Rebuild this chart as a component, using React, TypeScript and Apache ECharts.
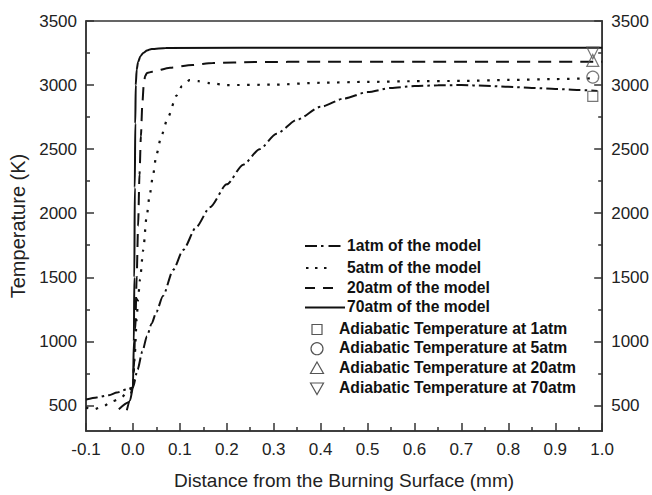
import React, { useEffect, useRef } from "react";
import * as echarts from "echarts";

// ---- Data ----
const atm1: [number, number][] = [
  [-0.1, 546], [-0.077, 562], [-0.051, 580], [-0.034, 600], [-0.013, 625], [0, 640],
  [0.01, 780], [0.02, 920], [0.03, 1040], [0.04, 1140], [0.05, 1230], [0.064, 1354],
  [0.086, 1559], [0.107, 1713], [0.135, 1892], [0.164, 2046], [0.2, 2225], [0.235, 2379],
  [0.27, 2500], [0.306, 2620], [0.35, 2730], [0.4, 2830], [0.45, 2895], [0.5, 2945],
  [0.55, 2978], [0.6, 2992], [0.65, 2998], [0.7, 3000], [0.75, 2995], [0.8, 2986],
  [0.85, 2978], [0.9, 2970], [0.95, 2962], [0.99, 2954],
];
const atm5: [number, number][] = [
  [-0.1, 482], [-0.083, 469], [-0.062, 495], [-0.045, 531], [-0.026, 554], [-0.015, 592], [0, 640],
  [0.004, 900], [0.008, 1175], [0.011, 1330], [0.015, 1482], [0.022, 1713], [0.029, 1969],
  [0.036, 2149], [0.043, 2302], [0.05, 2456], [0.061, 2610], [0.075, 2752], [0.093, 2918],
  [0.104, 2990], [0.121, 3038], [0.14, 3030], [0.164, 3015], [0.2, 3000], [0.3, 3003],
  [0.4, 3018], [0.5, 3025], [0.6, 3030], [0.7, 3032], [0.8, 3040], [0.9, 3047], [0.99, 3053],
];
const atm20: [number, number][] = [
  [-0.03, 470], [-0.01, 523], [0, 640], [0.002, 800], [0.005, 1100], [0.008, 1500],
  [0.011, 1900], [0.014, 2300], [0.017, 2600], [0.02, 2850], [0.023, 3000], [0.026, 3070],
  [0.03, 3095], [0.041, 3103], [0.079, 3136], [0.127, 3156], [0.17, 3172], [0.26, 3180],
  [0.4, 3182], [0.7, 3182], [1.0, 3182],
];
const atm70: [number, number][] = [
  [-0.013, 462], [-0.006, 540], [0, 640], [0.002, 1000], [0.003, 1500], [0.004, 2200],
  [0.005, 2700], [0.006, 3000], [0.008, 3120], [0.011, 3180], [0.016, 3225], [0.022, 3251],
  [0.03, 3270], [0.04, 3282], [0.07, 3290], [0.4, 3292], [1.0, 3292],
];
const adiabaticX = 0.98;
const adiabatic1 = 2912;
const adiabatic5 = 3062;
const adiabatic20 = 3192;
const adiabatic70 = 3250;

const xTicks = [-0.1, 0, 0.1, 0.2, 0.3, 0.4, 0.5, 0.6, 0.7, 0.8, 0.9, 1.0];
const yMajor = [500, 1000, 1500, 2000, 2500, 3000, 3500];
const yMinor = [750, 1250, 1750, 2250, 2750, 3250];

const lineNames = [
  "1atm of the model",
  "5atm of the model",
  "20atm of the model",
  "70atm of the model",
];
const markerNames = [
  "Adiabatic Temperature at 1atm",
  "Adiabatic Temperature at 5atm",
  "Adiabatic Temperature at 20atm",
  "Adiabatic Temperature at 70atm",
];

const FONT = "'Liberation Sans', Arial, Helvetica, sans-serif";
const INK = "#111";
const AX = "#333";
const MK = "#555";

export default function App() {
  const ref = useRef<HTMLDivElement>(null);
  useEffect(() => {
    if (!ref.current) return;
    const chart = echarts.init(ref.current, undefined, { renderer: "svg" });

    const yAxisBase = (pos: "left" | "right", minor: boolean, withName: boolean) => ({
      type: "value",
      position: pos,
      min: 300,
      max: 3500,
      splitLine: { show: false },
      axisLine: { show: !minor, onZero: false, lineStyle: { color: AX, width: 1.5 } },
      axisTick: {
        show: true,
        inside: true,
        length: minor ? 4 : 8,
        customValues: minor ? yMinor : yMajor,
        lineStyle: { color: AX, width: 1.5 },
      },
      axisLabel: {
        show: !minor,
        customValues: minor ? yMinor : yMajor,
        formatter: (v: number) => String(Math.round(v)),
        fontSize: 17,
        fontFamily: FONT,
        color: "#222",
        margin: 9,
      },
      name: withName ? "Temperature (K)" : "",
      nameLocation: "middle",
      nameGap: 55,
      nameTextStyle: { fontSize: 20, fontFamily: FONT, color: "#222" },
    });

    const lineSeries = (name: string, data: [number, number][], type: any, width: number) => ({
      type: "line",
      name,
      data,
      showSymbol: false,
      symbol: "none",
      smooth: 0.25,
      smoothMonotone: "x",
      lineStyle: { color: INK, width, type },
      xAxisIndex: 0,
      yAxisIndex: 0,
      z: 3,
    });

    const scatter = (name: string, y: number, symbol: string, rotate = 0) => ({
      type: "scatter",
      name,
      data: [[adiabaticX, y]],
      symbol,
      symbolSize: symbol === "rect" ? 10 : 12,
      symbolRotate: rotate,
      itemStyle: { color: "transparent", borderColor: MK, borderWidth: 1.2 },
      xAxisIndex: 0,
      yAxisIndex: 0,
      z: 4,
    });

    const LX = 305;
    const textStyle = (t: string, x: number, y: number) => ({
      type: "text",
      left: x,
      top: y - 9,
      style: {
        text: t,
        font: `bold 15.7px ${FONT}`,
        fill: "#111",
      },
    });
    const legendY = [246, 268, 288, 307.5];
    const markerY = [329.5, 348.7, 368, 388.5];
    const legendGraphics: any[] = [
      { type: "line", shape: { x1: LX, y1: legendY[0], x2: LX + 38, y2: legendY[0] }, style: { stroke: INK, lineWidth: 2, lineDash: [12, 4, 2.5, 5] } },
      { type: "line", shape: { x1: LX + 1, y1: legendY[1], x2: LX + 22, y2: legendY[1] }, style: { stroke: INK, lineWidth: 2.2, lineDash: [2.5, 6.5] } },
      { type: "line", shape: { x1: LX, y1: legendY[2], x2: LX + 28, y2: legendY[2] }, style: { stroke: INK, lineWidth: 2, lineDash: [10, 8] } },
      { type: "line", shape: { x1: LX, y1: legendY[3], x2: LX + 40, y2: legendY[3] }, style: { stroke: INK, lineWidth: 2 } },
      textStyle(lineNames[0], 347, legendY[0]),
      textStyle(lineNames[1], 347, legendY[1]),
      textStyle(lineNames[2], 347, legendY[2]),
      textStyle(lineNames[3], 347, legendY[3]),
      { type: "rect", shape: { x: 312, y: markerY[0] - 5, width: 10, height: 10 }, style: { fill: "none", stroke: MK, lineWidth: 1.2 } },
      { type: "circle", shape: { cx: 317, cy: markerY[1], r: 6 }, style: { fill: "none", stroke: MK, lineWidth: 1.2 } },
      { type: "polygon", shape: { points: [[317, markerY[2] - 6], [323.5, markerY[2] + 5.5], [310.5, markerY[2] + 5.5]] }, style: { fill: "none", stroke: MK, lineWidth: 1.2 } },
      { type: "polygon", shape: { points: [[310.5, markerY[3] - 5.5], [323.5, markerY[3] - 5.5], [317, markerY[3] + 6]] }, style: { fill: "none", stroke: MK, lineWidth: 1.2 } },
      textStyle(markerNames[0], 339, markerY[0]),
      textStyle(markerNames[1], 339, markerY[1]),
      textStyle(markerNames[2], 339, markerY[2]),
      textStyle(markerNames[3], 339, markerY[3]),
    ];

    chart.setOption({
      animation: false,
      backgroundColor: "#fff",
      textStyle: { fontFamily: FONT },
      grid: {
        left: 86,
        right: 49,
        top: 21,
        bottom: 58,
        show: true,
        borderColor: AX,
        borderWidth: 1.5,
        backgroundColor: "transparent",
      },
      xAxis: [
        {
          type: "value",
          position: "bottom",
          min: -0.1,
          max: 1.0,
          interval: 0.1,
          splitLine: { show: false },
          axisLine: { show: true, onZero: false, lineStyle: { color: AX, width: 1.5 } },
          axisTick: { show: true, inside: true, length: 8, customValues: xTicks, lineStyle: { color: AX, width: 1.5 } },
          minorTick: { show: true, splitNumber: 2, length: 4, lineStyle: { color: AX, width: 1.5 } },
          minorSplitLine: { show: false },
          axisLabel: {
            customValues: xTicks,
            formatter: (v: number) => (Math.abs(v) < 1e-9 ? "0.0" : v.toFixed(1)),
            fontSize: 17,
            fontFamily: FONT,
            color: "#222",
            margin: 10,
          },
          name: "Distance from the Burning Surface (mm)",
          nameLocation: "middle",
          nameGap: 40,
          nameTextStyle: { fontSize: 19, fontFamily: FONT, color: "#222" },
        },
      ],
      yAxis: [
        yAxisBase("left", false, true),
        yAxisBase("left", true, false),
        yAxisBase("right", false, false),
        yAxisBase("right", true, false),
      ],
      series: [
        lineSeries(lineNames[0], atm1, [12, 4, 2.5, 4], 2),
        lineSeries(lineNames[1], atm5, [2.5, 7.5], 2.2),
        lineSeries(lineNames[2], atm20, [13, 8], 2),
        lineSeries(lineNames[3], atm70, "solid", 2),
        scatter(markerNames[0], adiabatic1, "rect"),
        scatter(markerNames[1], adiabatic5, "circle"),
        scatter(markerNames[2], adiabatic20, "triangle"),
        scatter(markerNames[3], adiabatic70, "triangle", 180),
      ],
      graphic: legendGraphics,
    });

    return () => chart.dispose();
  }, []);

  return (
    <div
      ref={ref}
      style={{ position: "fixed", left: 0, top: 0, width: 652, height: 495, background: "#fff" }}
    />
  );
}
